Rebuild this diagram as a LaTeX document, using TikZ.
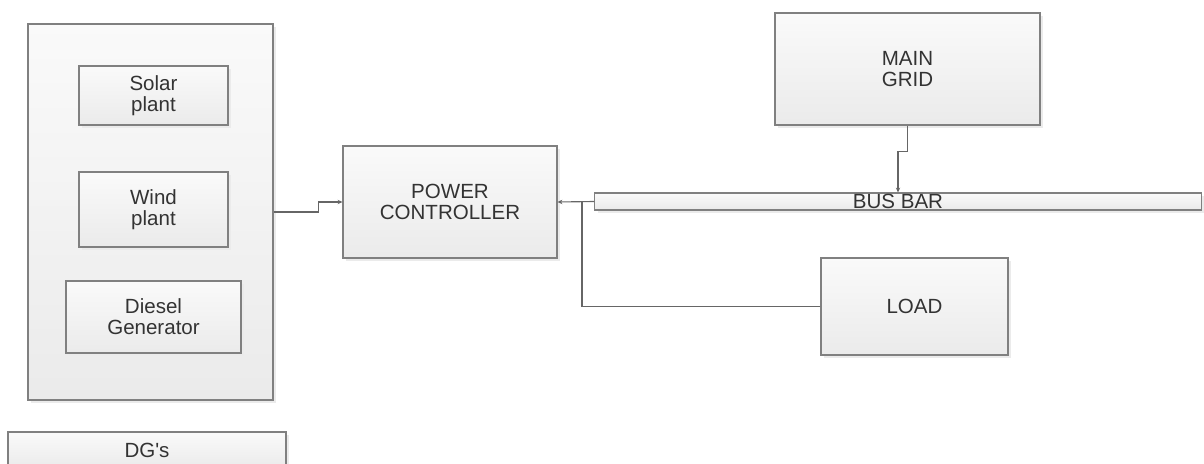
\documentclass[tikz,border=0pt]{standalone}
\usepackage{fontspec}
\setmainfont{Liberation Sans}
\usetikzlibrary{arrows.meta,shadows}

\begin{document}
\begin{tikzpicture}[
  x=0.025cm,y=-0.025cm,
  font=\fontsize{14.6}{15}\selectfont,
  box/.style={draw=black!50,line width=0.8pt,top color=black!2,bottom color=black!8,
    drop shadow={shadow xshift=2pt,shadow yshift=-2pt,fill=black!8,opacity=1},
    align=center,text=black!80,inner sep=0pt},
  flow/.style={-{Stealth[length=1.2mm,width=1.1mm]},draw=black!60,line width=0.8pt},
  link/.style={draw=black!60,line width=0.8pt}
]
\useasboundingbox (0,0) rectangle (1204,464);
\node[box,minimum width=6.125cm,minimum height=9.4cm] (dgs) at (150.5,212) {};
\node[box,minimum width=3.725cm,minimum height=1.475cm] (solar) at (153.5,95.5) {Solar\\plant};
\node[box,minimum width=3.725cm,minimum height=1.875cm] (wind) at (153.5,209.5) {Wind\\plant};
\node[box,minimum width=4.375cm,minimum height=1.8cm] (diesel) at (153.5,317) {Diesel\\Generator};
\node[box,minimum width=6.95cm,minimum height=0.9cm] (dglabel) at (147,450) {DG\textquotesingle s};

\node[box,minimum width=5.35cm,minimum height=2.8cm] (ctrl) at (450,202) {POWER\\CONTROLLER};
\node[box,minimum width=6.625cm,minimum height=2.8cm] (grid) at (907.5,69) {MAIN\\GRID};
\node[box,minimum width=15.15cm,minimum height=0.425cm,drop shadow={shadow xshift=1pt,shadow yshift=-1pt,fill=black!8,opacity=1}] (bus) at (898,201.5) {BUS BAR};
\node[box,minimum width=4.675cm,minimum height=2.425cm] (load) at (914.5,306.5) {LOAD};

\draw[flow] (dgs.east) -- ++(45,0) |- (ctrl.west);
\draw[flow] (grid.south) -- ++(0,26) -| (bus.north);
\draw[flow] (bus.west) -- (ctrl.east);
\draw[link] (load.west) -| (582,202);
\end{tikzpicture}
\end{document}
